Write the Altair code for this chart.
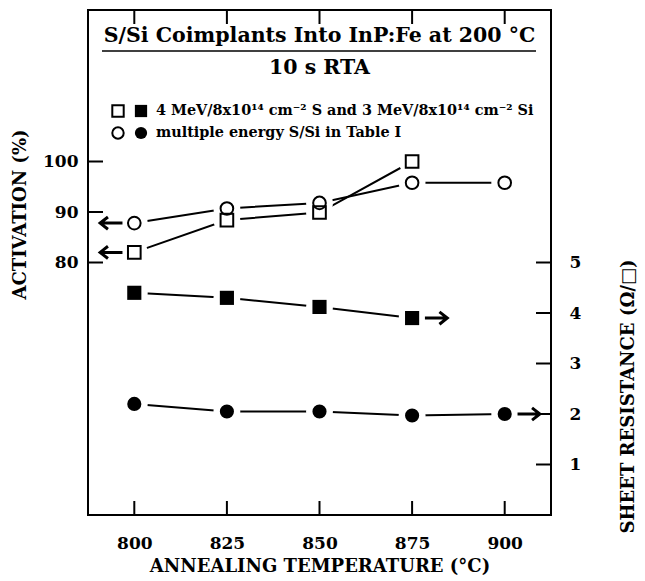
import altair as alt
import pandas as pd

# ---- data ----
temps_sq = [800, 825, 850, 875]
act_sq = [82.0, 88.4, 89.9, 100.0]          # open squares, activation (%)
res_sq = [4.40, 4.30, 4.12, 3.90]           # filled squares, sheet resistance

temps_ci = [800, 825, 850, 875, 900]
act_ci = [87.8, 90.7, 91.8, 95.8, 95.8]     # open circles, activation (%)
res_ci = [2.20, 2.05, 2.05, 1.97, 2.00]     # filled circles, sheet resistance

x_ticks = [800, 825, 850, 875, 900]
left_ticks = [80, 90, 100]
right_ticks = [1, 2, 3, 4, 5]

title1 = "S/Si Coimplants Into InP:Fe at 200 °C"
title2 = "10 s RTA"
legend1 = "4 MeV/8x10¹⁴ cm⁻² S and 3 MeV/8x10¹⁴ cm⁻² Si"
legend2 = "multiple energy S/Si in Table I"

FONT = "DejaVu Serif"
W, H = 463, 505

act_df = pd.DataFrame({
    "x": temps_sq + temps_ci,
    "y": act_sq + act_ci,
    "s": ["sq"] * len(temps_sq) + ["ci"] * len(temps_ci),
})
res_df = pd.DataFrame({
    "x": temps_sq + temps_ci,
    "y": res_sq + res_ci,
    "s": ["sq"] * len(temps_sq) + ["ci"] * len(temps_ci),
})

x_enc = alt.X("x:Q", scale=alt.Scale(domain=[787.5, 912.5], nice=False, zero=False),
              axis=alt.Axis(values=x_ticks, ticks=False, domain=False, grid=False,
                            labelFont=FONT, labelFontWeight="bold", labelFontSize=17,
                            labelPadding=20, labelColor="black",
                            title="ANNEALING TEMPERATURE (°C)", titleFont=FONT,
                            titleFontWeight="bold", titleFontSize=18, titleColor="black",
                            titlePadding=6))
yl_enc = alt.Y("y:Q", scale=alt.Scale(domain=[30, 130], nice=False, zero=False),
               axis=alt.Axis(values=left_ticks, ticks=False, domain=False, grid=False,
                             labelFont=FONT, labelFontWeight="bold", labelFontSize=17,
                             labelPadding=10, labelColor="black",
                             title="ACTIVATION (%)", titleFont=FONT, titleFontWeight="bold",
                             titleFontSize=18, titleColor="black",
                             titleX=-68, titleY=204, titleBaseline="middle", titleAlign="center"))
yr_enc = alt.Y("y:Q", scale=alt.Scale(domain=[0, 10], nice=False, zero=False),
               axis=alt.Axis(orient="right", values=right_ticks, ticks=False, domain=False,
                             grid=False, labelFont=FONT, labelFontWeight="bold",
                             labelFontSize=17, labelPadding=18, labelColor="black",
                             title="SHEET RESISTANCE (Ω/□)", titleFont=FONT,
                             titleFontWeight="bold", titleFontSize=18, titleColor="black",
                             titleAngle=270, titleX=77, titleY=386,
                             titleBaseline="middle", titleAlign="center"))

shape_scale = alt.Scale(domain=["sq", "ci"], range=["square", "circle"])

LEFT_ARROW = "M1,0L-1,0M-0.3,-0.55L-1,0L-0.3,0.55"
RIGHT_ARROW = "M-1,0L1,0M0.3,-0.55L1,0L0.3,0.55"


def series_layers(df, y_enc, filled):
    base = alt.Chart(df)
    line = base.mark_line(color="black", strokeWidth=2).encode(x=x_enc, y=y_enc, detail="s:N")
    halo = base.mark_point(filled=True, color="white", opacity=1, size=720, shape="circle").encode(
        x=x_enc, y=y_enc)
    if filled:
        pts = base.mark_point(filled=True, color="black", opacity=1, size=200).encode(
            x=x_enc, y=y_enc, shape=alt.Shape("s:N", scale=shape_scale, legend=None))
    else:
        pts = base.mark_point(filled=False, color="black", strokeWidth=2, opacity=1, size=160).encode(
            x=x_enc, y=y_enc, shape=alt.Shape("s:N", scale=shape_scale, legend=None))
    return [line, halo, pts]


# frame ticks (drawn inward)
xt_df = pd.DataFrame({"x": x_ticks})
bottom_ticks = alt.Chart(xt_df).mark_rule(color="black", strokeWidth=2).encode(
    x=x_enc, y=alt.value(H - 14), y2=alt.value(H))
top_ticks = alt.Chart(xt_df).mark_rule(color="black", strokeWidth=2).encode(
    x=x_enc, y=alt.value(0), y2=alt.value(14))
lt = alt.Chart(pd.DataFrame({"y": left_ticks})).mark_rule(color="black", strokeWidth=2).encode(
    y=yl_enc, x=alt.value(0), x2=alt.value(15))
rt = alt.Chart(pd.DataFrame({"y": right_ticks})).mark_rule(color="black", strokeWidth=2).encode(
    y=yr_enc, x=alt.value(W - 15), x2=alt.value(W))

# arrows pointing to the relevant axis
larrow = alt.Chart(pd.DataFrame({"x": [temps_sq[0], temps_ci[0]], "y": [act_sq[0], act_ci[0]]})).mark_point(
    shape=LEFT_ARROW, filled=False, color="black", strokeWidth=3, opacity=1, size=500, xOffset=-23
).encode(x=x_enc, y=yl_enc)
rarrow = alt.Chart(pd.DataFrame({"x": [temps_sq[-1], temps_ci[-1]], "y": [res_sq[-1], res_ci[-1]]})).mark_point(
    shape=RIGHT_ARROW, filled=False, color="black", strokeWidth=3, opacity=1, size=500, xOffset=24
).encode(x=x_enc, y=yr_enc)

# title inside the frame
t1 = alt.Chart(pd.DataFrame({"t": [title1]})).mark_text(
    font=FONT, fontWeight="bold", fontSize=20.5, color="black", align="center", baseline="middle"
).encode(text="t:N", x=alt.value(W / 2), y=alt.value(26))
uline = alt.Chart(pd.DataFrame({"t": [title1]})).mark_rule(color="black", strokeWidth=1.5).encode(
    x=alt.value(14), x2=alt.value(448), y=alt.value(41))
t2 = alt.Chart(pd.DataFrame({"t": [title2]})).mark_text(
    font=FONT, fontWeight="bold", fontSize=20.5, color="black", align="center", baseline="middle"
).encode(text="t:N", x=alt.value(W / 2), y=alt.value(58))

# legend
leg_sym = pd.DataFrame({
    "px": [30, 53, 30, 53],
    "py": [101, 101, 123, 123],
    "shape": ["square", "square", "circle", "circle"],
    "fill": ["o", "f", "o", "f"],
})
leg_open = alt.Chart(leg_sym[leg_sym.fill == "o"]).mark_point(
    filled=False, color="black", strokeWidth=2, opacity=1, size=130
).encode(x=alt.X("px:Q", scale=None), y=alt.Y("py:Q", scale=None),
         shape=alt.Shape("shape:N", scale=None))
leg_fill = alt.Chart(leg_sym[leg_sym.fill == "f"]).mark_point(
    filled=True, color="black", opacity=1, size=150
).encode(x=alt.X("px:Q", scale=None), y=alt.Y("py:Q", scale=None),
         shape=alt.Shape("shape:N", scale=None))
leg_text = alt.Chart(pd.DataFrame({"t": [legend1, legend2], "py": [101, 123]})).mark_text(
    font=FONT, fontWeight="bold", fontSize=14.4, color="black", align="left", baseline="middle"
).encode(text="t:N", x=alt.value(68), y=alt.Y("py:Q", scale=None))

left_group = alt.layer(*series_layers(act_df, yl_enc, False), lt, larrow,
                       bottom_ticks, top_ticks, t1, uline, t2)
right_group = alt.layer(*series_layers(res_df, yr_enc, True), rt, rarrow)

chart = alt.layer(left_group, right_group, leg_open, leg_fill, leg_text).resolve_scale(
    y="independent"
).properties(
    width=W, height=H,
    autosize=alt.AutoSizeParams(type="none"),
    padding={"left": 88, "top": 10, "right": 94, "bottom": 66},
).configure_view(stroke="black", strokeWidth=2).configure_text(font=FONT)

chart.save("out.html", embed_options={"renderer": "svg", "actions": False})
